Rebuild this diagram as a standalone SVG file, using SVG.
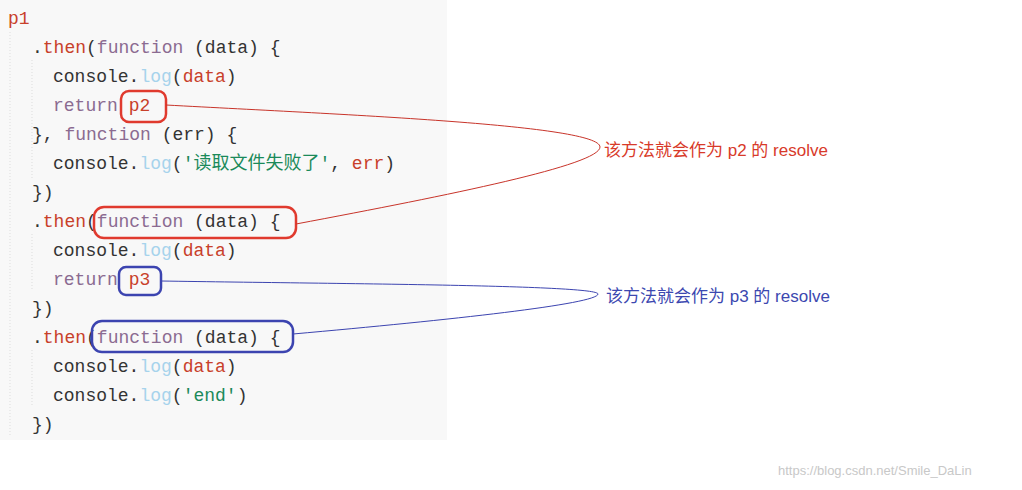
<svg xmlns="http://www.w3.org/2000/svg" width="1022" height="490" viewBox="0 0 1022 490">
<style>
.c{font-family:"Liberation Mono","Noto Sans CJK SC",monospace;font-size:18px;fill:#333;white-space:pre}
.k{fill:#c8402a}.f{fill:#8b6b91}.l{fill:#a6d3ec}.s{fill:#1b8a5a}
.guide{stroke:#ddd;stroke-dasharray:1 2}
.lab{font-family:"Liberation Sans","Noto Sans CJK SC",sans-serif;font-size:17px}
</style>
<rect width="1022" height="490" fill="#fff"/>
<g id="code">
<rect x="0" y="0" width="447" height="440" fill="#f8f8f8"/>
<line class="guide" x1="10" y1="32" x2="10" y2="436"/>
<line class="guide" x1="32" y1="60" x2="32" y2="178"/>
<line class="guide" x1="32" y1="234" x2="32" y2="290"/>
<line class="guide" x1="32" y1="350" x2="32" y2="406"/>
<text class="c" x="8" y="24"><tspan class="k">p1</tspan></text>
<text class="c" x="32" y="53">.<tspan class="k">then</tspan>(<tspan class="f">function</tspan> (data) {</text>
<text class="c" x="53" y="82">console.<tspan class="l">log</tspan>(<tspan class="k">data</tspan>)</text>
<text class="c" x="53" y="111"><tspan class="f">return</tspan> <tspan class="k">p2</tspan></text>
<text class="c" x="32" y="140">}, <tspan class="f">function</tspan> (err) {</text>
<text class="c" x="53" y="169">console.<tspan class="l">log</tspan>(<tspan class="s">'读取文件失败了'</tspan>, <tspan class="k">err</tspan>)</text>
<text class="c" x="32" y="198">})</text>
<text class="c" x="32" y="227">.<tspan class="k">then</tspan>(<tspan class="f">function</tspan> (data) {</text>
<text class="c" x="53" y="256">console.<tspan class="l">log</tspan>(<tspan class="k">data</tspan>)</text>
<text class="c" x="53" y="285"><tspan class="f">return</tspan> <tspan class="k">p3</tspan></text>
<text class="c" x="32" y="314">})</text>
<text class="c" x="32" y="343">.<tspan class="k">then</tspan>(<tspan class="f">function</tspan> (data) {</text>
<text class="c" x="53" y="372">console.<tspan class="l">log</tspan>(<tspan class="k">data</tspan>)</text>
<text class="c" x="53" y="401">console.<tspan class="l">log</tspan>(<tspan class="s">'end'</tspan>)</text>
<text class="c" x="32" y="430">})</text>
</g>
<g id="marks" fill="none" stroke-width="2.5">
<rect x="121" y="91" width="45" height="31" rx="8" stroke="#e03a2e"/>
<rect x="94" y="207" width="202" height="31" rx="10" stroke="#e03a2e"/>
<rect x="119" y="267" width="42" height="28" rx="7" stroke="#3c44b0"/>
<rect x="92" y="321" width="201" height="31" rx="10" stroke="#3c44b0"/>
</g>
<g id="connectors" fill="none" stroke-width="1">
<path d="M166,105 C350,115 600,125 600,147 C600,165 450,195 296,224" stroke="#c8342a"/>
<path d="M161,281 C350,284 598,285 598,294 C598,304 450,320 293,334" stroke="#3c44b0"/>
</g>
<g id="labels">
<text class="lab" x="604" y="156" fill="#d83a2a">该方法就会作为 p2 的 resolve</text>
<text class="lab" x="606" y="302" fill="#3c48b0">该方法就会作为 p3 的 resolve</text>
</g>
<text x="778" y="475" font-family="Liberation Sans,sans-serif" font-size="13" fill="#c8c8c8">https://blog.csdn.net/Smile_DaLin</text>
</svg>
